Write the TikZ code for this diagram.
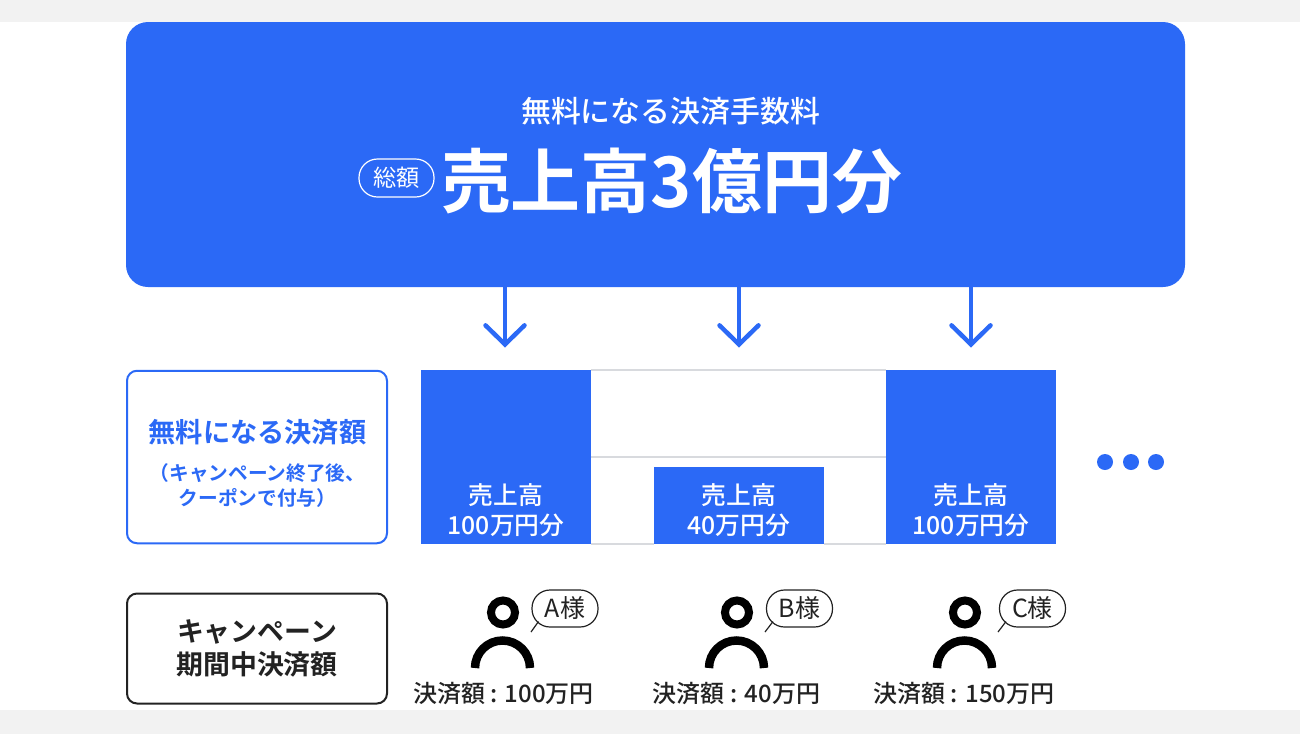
\documentclass[tikz,border=0pt]{standalone}
\usepackage{fontspec}
\usepackage{xcolor}
\usetikzlibrary{arrows.meta, positioning}

\newfontfamily\cjk[BoldFont={Noto Sans CJK JP Bold}]{Noto Sans CJK JP}
\newfontfamily\cjkmed{Noto Sans CJK JP Medium}

\definecolor{brandblue}{HTML}{2B69F6}
\definecolor{inkblack}{HTML}{222222}
\definecolor{gridgrey}{HTML}{D8DADE}
\definecolor{bandgrey}{HTML}{F2F2F2}

\tikzset{
    filledbar/.style={fill=brandblue, inner sep=0, outer sep=0, minimum width=3.4cm},
    barlabel/.style={text=white, align=center, font=\cjkmed\fontsize{14.1}{17}\selectfont},
    gridline/.style={draw=gridgrey, line width=0.03cm},
    downarrow/.style={draw=brandblue, line width=0.09cm, line cap=round, -{Straight Barb[length=0.38cm, width=0.78cm, line cap=round]}},
    sidebox/.style={rounded corners=0.2cm, fill=white, inner sep=0, outer sep=0, minimum width=5.2cm, align=center},
    headring/.style={circle, draw=black, line width=0.16cm, inner sep=0, minimum size=0.48cm},
    shoulder/.style={draw=black, line width=0.17cm},
    bubble/.style={draw=inkblack, line width=0.024cm, fill=white, rounded corners=0.36cm, inner sep=0, outer sep=0, minimum width=1.32cm, minimum height=0.74cm, text=inkblack, font=\cjk\fontsize{14.2}{16}\selectfont},
    bubbletail/.style={draw=inkblack, line width=0.024cm},
    amount/.style={text=inkblack, font=\cjkmed\fontsize{13.65}{15}\selectfont},
    dotmark/.style={circle, fill=brandblue, inner sep=0, minimum size=0.32cm}
}

\begin{document}
\begin{tikzpicture}
    \useasboundingbox (0, 0) rectangle (26, -14.68);

    \fill[bandgrey] (0, 0) rectangle (26, -0.44);
    \fill[bandgrey] (0, -14.2) rectangle (26, -14.68);

    % top panel
    \node[fill=brandblue, rounded corners=0.44cm, inner sep=0, outer sep=0, minimum width=21.18cm, minimum height=5.3cm] (panel) at (13.11, -3.09) {};
    \node[text=white, font=\cjkmed\fontsize{17}{20}\selectfont] (panelsub) at (13.41, -2.22) {無料になる決済手数料};
    \node[text=white, font=\cjk\bfseries\fontsize{39.8}{46}\selectfont] (paneltitle) at (13.43, -3.62) {売上高3億円分};
    \node[draw=white, line width=0.024cm, rounded corners=0.37cm, inner sep=0, minimum width=1.5cm, minimum height=0.76cm, text=white, font=\cjk\fontsize{13.2}{15}\selectfont] (total) at (7.93, -3.56) {総額};

    % side boxes
    \node[sidebox, draw=brandblue, line width=0.04cm, minimum height=3.45cm] (freebox) at (5.14, -9.14) {};
    \node[text=brandblue, font=\cjk\bfseries\fontsize{15.5}{18}\selectfont] (freetitle) at (5.15, -8.64) {無料になる決済額};
    \node[text=brandblue, align=center, font=\cjk\bfseries\fontsize{11.2}{14}\selectfont] (freenote) at (5.15, -9.71) {（キャンペーン終了後、\\クーポンで付与）};
    \node[sidebox, draw=inkblack, line width=0.04cm, minimum height=2.2cm, text=inkblack, font=\cjk\bfseries\fontsize{15.3}{19}\selectfont] (periodbox) at (5.14, -12.97) {キャンペーン\\期間中決済額};

    % bars
    \node[filledbar, minimum height=3.48cm] (barA) at (10.12, -9.14) {};
    \node[filledbar, minimum height=1.54cm] (barB) at (14.78, -10.11) {};
    \node[filledbar, minimum height=3.48cm] (barC) at (19.42, -9.14) {};

    \draw[gridline]
    (barA.north east) -- (barC.north west)
    (barA.east) -- (barC.west)
    (barA.south east) -- (barB.south west)
    (barB.south east) -- (barC.south west);

    \node[barlabel] (labelA) at (10.12, -10.2) {売上高\\100万円分};
    \node[barlabel] (labelB) at (14.78, -10.2) {売上高\\40万円分};
    \node[barlabel] (labelC) at (19.42, -10.2) {売上高\\100万円分};

    \node[dotmark] (dotA) at (22.1, -9.24) {};
    \node[dotmark] (dotB) at (22.62, -9.24) {};
    \node[dotmark] (dotC) at (23.12, -9.24) {};

    % arrows
    \coordinate (tipA) at (10.1, -6.95);
    \coordinate (tipB) at (14.78, -6.95);
    \coordinate (tipC) at (19.42, -6.95);
    \draw[downarrow] (panel.south -| tipA) -- (tipA);
    \draw[downarrow] (panel.south -| tipB) -- (tipB);
    \draw[downarrow] (panel.south -| tipC) -- (tipC);

    % customers
    \node[headring] (headA) at (10.06, -12.25) {};
    \node[headring] (headB) at (14.74, -12.25) {};
    \node[headring] (headC) at (19.3, -12.25) {};

    \draw[shoulder] (9.5, -13.36) arc (180:0:0.55);
    \draw[shoulder] (14.18, -13.36) arc (180:0:0.55);
    \draw[shoulder] (18.74, -13.36) arc (180:0:0.55);

    \coordinate (tailA) at (10.62, -12.64);
    \coordinate (tailB) at (15.3, -12.64);
    \coordinate (tailC) at (19.96, -12.64);
    \node[bubble] (bubbleA) at (11.3, -12.17) {A様};
    \node[bubble] (bubbleB) at (15.99, -12.17) {B様};
    \node[bubble] (bubbleC) at (20.65, -12.17) {C様};
    \draw[bubbletail] (tailA) -- ([shift={(0.13, 0.11)}]bubbleA.south west);
    \draw[bubbletail] (tailB) -- ([shift={(0.13, 0.11)}]bubbleB.south west);
    \draw[bubbletail] (tailC) -- ([shift={(0.13, 0.11)}]bubbleC.south west);

    \node[amount] (amountA) at (10.07, -13.86) {決済額 : 100万円};
    \node[amount] (amountB) at (14.73, -13.86) {決済額 : 40万円};
    \node[amount] (amountC) at (19.28, -13.86) {決済額 : 150万円};
\end{tikzpicture}
\end{document}
